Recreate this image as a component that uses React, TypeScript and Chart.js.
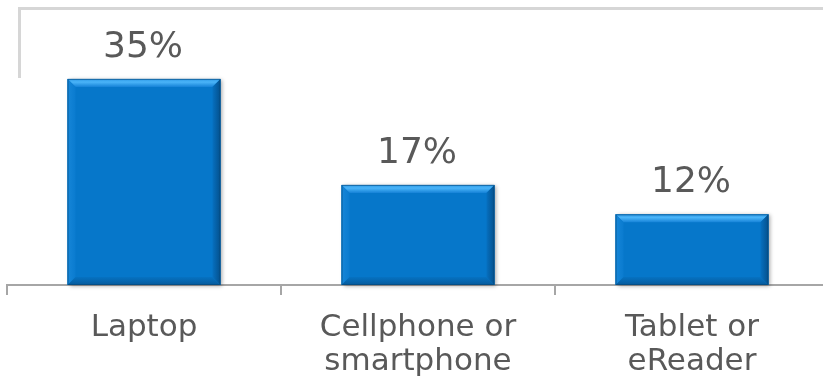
import React, { useEffect, useRef } from "react";
import { Chart, registerables } from "chart.js";

Chart.register(...registerables);

const categories: string[][] = [["Laptop"], ["Cellphone or", "smartphone"], ["Tablet or", "eReader"]];
const values: number[] = [35, 17, 12];
const valueLabels: string[] = ["35%", "17%", "12%"];

const FONT = "'DejaVu Sans', Verdana, sans-serif";
const TEXT_COLOR = "#595959";

const bevelPlugin = {
  id: "bevelBars",
  beforeDatasetsDraw(chart: any) {
    const ctx = chart.ctx;
    const meta = chart.getDatasetMeta(0);
    meta.data.forEach((bar: any) => {
      const l = bar.x - bar.width / 2;
      const t = bar.y;
      const h = bar.base - bar.y;
      ctx.save();
      ctx.shadowColor = "rgba(0,0,0,0.35)";
      ctx.shadowBlur = 4;
      ctx.shadowOffsetX = 2;
      ctx.shadowOffsetY = 1;
      ctx.fillStyle = "#0677CA";
      ctx.fillRect(l, t, bar.width, h);
      ctx.restore();
    });
  },
  afterDatasetsDraw(chart: any) {
    const ctx = chart.ctx;
    const meta = chart.getDatasetMeta(0);
    meta.data.forEach((bar: any, i: number) => {
      const l = bar.x - bar.width / 2;
      const r = bar.x + bar.width / 2;
      const t = bar.y;
      const bt = bar.base;
      const b = 8;
      const poly = (pts: number[][], fill: any) => {
        ctx.beginPath();
        ctx.moveTo(pts[0][0], pts[0][1]);
        for (let k = 1; k < pts.length; k++) ctx.lineTo(pts[k][0], pts[k][1]);
        ctx.closePath();
        ctx.fillStyle = fill;
        ctx.fill();
      };
      ctx.save();
      const gTop = ctx.createLinearGradient(0, t, 0, t + b);
      gTop.addColorStop(0, "#2C98E6");
      gTop.addColorStop(0.4, "#4AB4F8");
      gTop.addColorStop(1, "#1683D8");
      poly([[l, t], [r, t], [r - b, t + b], [l + b, t + b]], gTop);
      const gLeft = ctx.createLinearGradient(l, 0, l + b, 0);
      gLeft.addColorStop(0, "#1686D8");
      gLeft.addColorStop(1, "#0A7BCF");
      poly([[l, t], [l + b, t + b], [l + b, bt - b], [l, bt]], gLeft);
      const gRight = ctx.createLinearGradient(r - b, 0, r, 0);
      gRight.addColorStop(0, "#0670C0");
      gRight.addColorStop(1, "#04508C");
      poly([[r, t], [r, bt], [r - b, bt - b], [r - b, t + b]], gRight);
      const gBot = ctx.createLinearGradient(0, bt - b, 0, bt);
      gBot.addColorStop(0, "#0672C2");
      gBot.addColorStop(1, "#055A9C");
      poly([[l, bt], [r, bt], [r - b, bt - b], [l + b, bt - b]], gBot);
      ctx.strokeStyle = "rgba(4,70,120,0.6)";
      ctx.lineWidth = 1;
      ctx.strokeRect(l + 0.5, t + 0.5, r - l - 1, bt - t - 1);

      ctx.fillStyle = TEXT_COLOR;
      ctx.font = `36px ${FONT}`;
      ctx.textAlign = "center";
      ctx.textBaseline = "alphabetic";
      ctx.fillText(valueLabels[i], bar.x - 1, bar.y - 22);
      ctx.restore();
    });
  },
};

export default function App() {
  const ref = useRef<HTMLCanvasElement | null>(null);

  useEffect(() => {
    if (!ref.current) return;
    const chart = new Chart(ref.current, {
      type: "bar",
      data: {
        labels: categories,
        datasets: [
          {
            data: values,
            backgroundColor: "#0677CA",
            borderWidth: 0,
            barPercentage: 1,
            categoryPercentage: 0.558,
          },
        ],
      },
      options: {
        responsive: false,
        animation: false,
        devicePixelRatio: 1,
        layout: { padding: { top: 20, left: 7, right: 11, bottom: 0 } },
        plugins: {
          legend: { display: false },
          tooltip: { enabled: false },
          title: { display: false },
        },
        scales: {
          x: {
            offset: true,
            grid: {
              offset: true,
              drawOnChartArea: false,
              drawTicks: true,
              tickLength: 10,
              color: "#a6a6a6",
              lineWidth: 2,
            },
            border: { display: true, color: "#a6a6a6", width: 2 },
            ticks: {
              color: TEXT_COLOR,
              font: { family: FONT, size: 31, lineHeight: 34 / 31 },
              padding: 16,
              autoSkip: false,
              maxRotation: 0,
              minRotation: 0,
            },
            afterFit: (scale: any) => {
              scale.height = 99;
            },
          },
          y: {
            display: false,
            min: 0,
            max: 45,
          },
        },
      },
      plugins: [bevelPlugin],
    });
    return () => chart.destroy();
  }, []);

  return (
    <div
      style={{
        position: "fixed",
        left: 0,
        top: 0,
        width: 823,
        height: 384,
        overflow: "hidden",
        background: "#ffffff",
      }}
    >
      <div
        style={{
          position: "absolute",
          left: 18,
          top: 7,
          width: 900,
          height: 71,
          borderTop: "3px solid #d6d6d6",
          borderLeft: "3px solid #d6d6d6",
          boxSizing: "border-box",
        }}
      />
      <canvas
        ref={ref}
        width={840}
        height={384}
        style={{ position: "absolute", left: 0, top: 0, width: 840, height: 384, display: "block" }}
      />
    </div>
  );
}
